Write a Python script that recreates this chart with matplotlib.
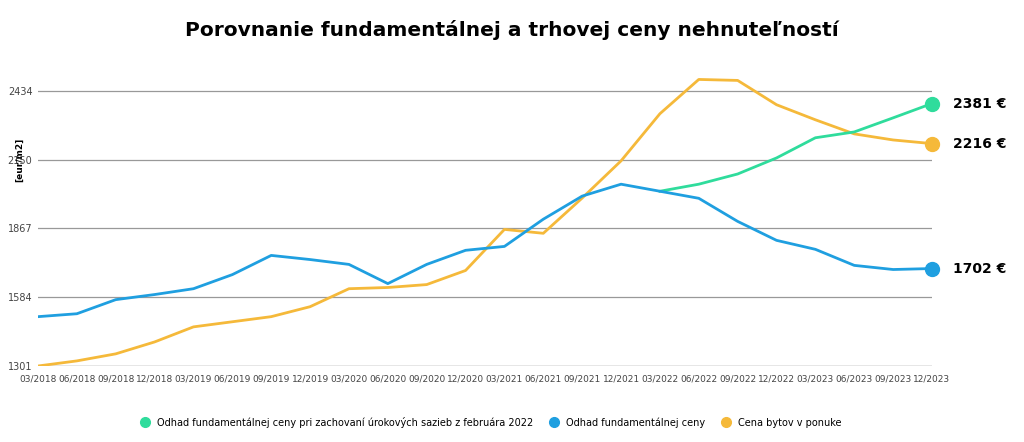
import matplotlib.pyplot as plt
from matplotlib.lines import Line2D

# --- data ---
quarters = ["03/2018", "06/2018", "09/2018", "12/2018", "03/2019", "06/2019", "09/2019", "12/2019",
            "03/2020", "06/2020", "09/2020", "12/2020", "03/2021", "06/2021", "09/2021", "12/2021",
            "03/2022", "06/2022", "09/2022", "12/2022", "03/2023", "06/2023", "09/2023", "12/2023"]
fundamental = [1504, 1516, 1574, 1595, 1619, 1677, 1756, 1739, 1719, 1640, 1719, 1777,
               1793, 1905, 2000, 2049, 2020, 1991, 1896, 1818, 1781, 1715, 1698, 1702]
fundamental_fixed = [2020, 2049, 2091, 2157, 2240, 2264, 2322, 2381]  # from 03/2022
offer_price = [1301, 1322, 1351, 1400, 1462, 1483, 1504, 1545, 1619, 1624, 1636, 1694,
               1863, 1847, 1992, 2145, 2339, 2480, 2476, 2376, 2314, 2256, 2231, 2216]
yticks = [1301, 1584, 1867, 2150, 2434]

GREEN = "#2fdc9c"
BLUE = "#1f9fe0"
ORANGE = "#f5b93a"

fig = plt.figure(figsize=(10.24, 4.42), dpi=100)
ax = fig.add_axes([38 / 1024, 76 / 442, 894 / 1024, 306 / 442])

x = list(range(len(quarters)))
x_fixed = x[16:]
ax.plot(x, offer_price, color=ORANGE, lw=2, zorder=3)
ax.plot(x_fixed, fundamental_fixed, color=GREEN, lw=2, zorder=3)
ax.plot(x, fundamental, color=BLUE, lw=2, zorder=4)

for val, col in [(fundamental_fixed[-1], GREEN), (offer_price[-1], ORANGE), (fundamental[-1], BLUE)]:
    ax.plot(x[-1], val, "o", color=col, ms=10, zorder=5, clip_on=False)
    ax.annotate(f"{val} €", (x[-1], val), xytext=(15, 0), textcoords="offset points",
                va="center", ha="left", fontsize=10, fontweight="bold", family="DejaVu Sans")

ax.set_xlim(0, len(quarters) - 1)
ax.set_ylim(1301, 2560)
ax.set_xticks(x)
ax.set_xticklabels(quarters, fontsize=6.5, color="#444444")
ax.set_yticks(yticks)
ax.set_yticklabels([str(t) for t in yticks], fontsize=7, color="#444444")
ax.tick_params(length=0, pad=6)
ax.yaxis.set_tick_params(pad=4)
ax.grid(axis="y", color="#999999", lw=0.9)
ax.set_axisbelow(True)
for s in ax.spines.values():
    s.set_visible(False)
ax.axhline(1301, color="#999999", lw=0.9)

fig.text(20 / 1024, 1 - 160 / 442, "[eur/m2]", rotation=90, fontsize=6.5, fontweight="bold",
         ha="center", va="center")

fig.suptitle("Porovnanie fundamentálnej a trhovej ceny nehnuteľností", y=0.955,
             fontsize=14.5, fontweight="bold", family="DejaVu Sans")

handles = [Line2D([], [], ls="", marker="o", ms=7, color=GREEN),
           Line2D([], [], ls="", marker="o", ms=7, color=BLUE),
           Line2D([], [], ls="", marker="o", ms=7, color=ORANGE)]
labels = ["Odhad fundamentálnej ceny pri zachovaní úrokových sazieb z februára 2022",
          "Odhad fundamentálnej ceny", "Cena bytov v ponuke"]
fig.legend(handles, labels, loc="center", bbox_to_anchor=(0.477, 0.045), ncol=3,
           frameon=False, fontsize=7, handletextpad=0.2, columnspacing=1.2)

fig.savefig("out.png", dpi=100)
